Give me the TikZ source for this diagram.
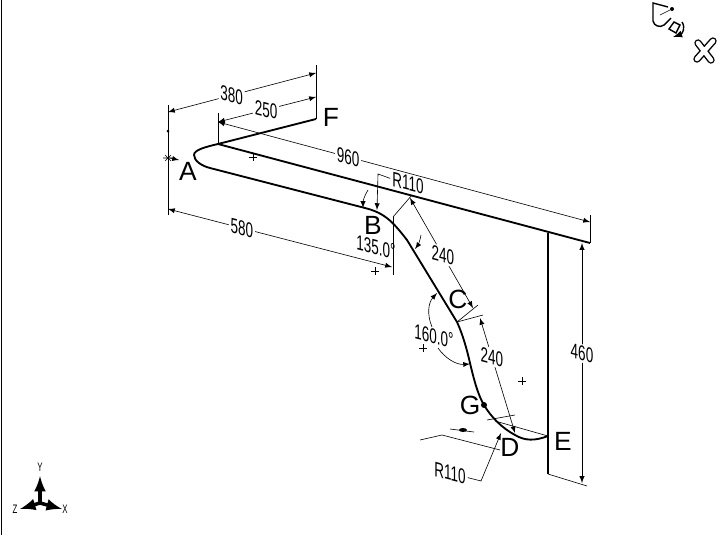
\documentclass[tikz,border=0pt]{standalone}
\usepackage{fontspec}
\setsansfont{Liberation Sans}
\newfontfamily\dimfont[FakeStretch=0.64]{Liberation Sans}
\tikzset{
  tube/.style={line width=1.05pt},
  thinline/.style={line width=0.35pt},
  dimline/.style={thinline, <->, >=latex},
  leader/.style={thinline, ->, >=latex},
  dimtext/.style={fill=white, inner sep=1pt, transform shape, yslant=-0.26, font=\dimfont\fontsize{12}{13}\selectfont},
  letter/.style={inner sep=0pt, font=\sffamily\fontsize{15}{16}\selectfont},
  triad/.style={line width=2pt, ->, >=latex},
  triadtext/.style={inner sep=0pt, font=\dimfont\fontsize{7}{8}\selectfont},
}
\begin{document}
\begin{tikzpicture}[x=0.02cm,y=-0.02cm]
\useasboundingbox (0,0) rectangle (721,535);
\draw[thinline] (1,0) -- (1,535);
% points on the tube
\coordinate (tF) at (316,119);
\coordinate (tT) at (218,144);
\coordinate (tA) at (194,155);
\coordinate (tL) at (210,168);
\coordinate (tB) at (365,208);
\coordinate (tB2) at (407,240);
\coordinate (tC) at (457,322);
\coordinate (tC2) at (470,363);
\coordinate (tG) at (484,405);
\coordinate (tD) at (515,435);
\coordinate (tE) at (548,436);
\coordinate (tR) at (590,243);
\coordinate (tS) at (548,233);
\coordinate (tU) at (548,474);
\draw[tube] (tF) -- (tT) .. controls (205,147) and (194,150) .. (tA)
  .. controls (194,161) and (202,166) .. (tL) -- (tB)
  .. controls (385,213) and (393,222) .. (tB2) -- (tC)
  .. controls (463,335) and (467,350) .. (tC2)
  .. controls (474,380) and (478,395) .. (tG)
  .. controls (491,417) and (502,428) .. (tD)
  .. controls (525,441) and (535,441) .. (tE);
\draw[tube] (tT) -- (tR);
\draw[tube] (tS) -- (tU);
\fill (tG) circle (3);
% extension lines
\coordinate (e380a) at (168,105);
\coordinate (e380b) at (168,215);
\coordinate (e250a) at (316,65);
\draw[thinline] (e380a) -- (e380b);
\draw[thinline] (e250a) -- (tF);
\draw[thinline] (218,113) -- (tT);
\draw[thinline] (590,215) -- (tR);
\draw[thinline] (393,217) -- (393,275);
\draw[thinline] (393,217) -- (412,195);
\draw[thinline] (tC) -- (478,305);
\draw[thinline] (tC) -- (483,315);
\draw[thinline] (487,420) -- (515,415);
\draw[thinline] (495,421) -- (tE);
\draw[thinline] (tU) -- (587,486);
% dimensions
\draw[dimline] (168,112) -- node[dimtext, pos=.43] (d380) {380} (316,73);
\draw[dimline] (218,122) -- node[dimtext, pos=.49] (d250) {250} (316,97);
\draw[dimline] (218,122) -- node[dimtext, pos=.35] (d960) {960} (590,222);
\draw[dimline] (168,209) -- node[dimtext, pos=.33] (d580) {580} (392,267);
\draw[dimline] (410,198) -- node[dimtext, pos=.52] (d240a) {240} (473,308);
\draw[dimline] (480,318) -- node[dimtext, pos=.34] (d240b) {240} (515,433);
\draw[dimline] (582,243) -- node[dimtext, pos=.46] (d460) {460} (582,483);
% angles
\draw[leader] (368,190) .. controls (364,196) and (363,202) .. (363,208);
\draw[leader] (421,235) .. controls (420,241) and (418,245) .. (415,249);
\draw[leader] (432,327) .. controls (427,315) and (428,303) .. (437,293);
\draw[leader] (438,348) .. controls (445,358) and (456,365) .. (470,364);
\node[dimtext, fill=none] (a135) at (376,247) {135.0°};
\node[dimtext, fill=none] (a160) at (434,336) {160.0°};
% radius leaders
\node[dimtext, fill=none] (r110a) at (408,183) {R110};
\node[dimtext, fill=none] (r110b) at (450,473) {R110};
\draw[leader] (r110a.west) -- (378,174) -- (377,210);
\draw[leader] (r110b.east) -- (481,481) -- (501,433);
% angle of the last bend, seen almost edge on
\draw[thinline] (420,440) -- (442,435) -- (500,450);
\draw[thinline] (450,429) -- (474,432);
\fill (463,430) ellipse (4 and 2);
% other marks
\foreach \p in {(253,157),(375,271),(423,348),(522,381)}
    \draw[thinline] \p +(-4,0) -- +(4,0) \p +(0,-4) -- +(0,4);
\draw[thinline] (163,158) -- (173,158) (165,155) -- (171,161) (165,161) -- (171,155);
\draw[leader] (170,158) -- (179,160);
\fill (168,131) circle (1.5);
% letters
\node[letter] (A) at (188,171) {A};
\node[letter] (F) at (331,117) {F};
\node[letter] (B) at (373,225) {B};
\node[letter] (C) at (458,299) {C};
\node[letter] (G) at (470,405) {G};
\node[letter] (D) at (510,447) {D};
\node[letter] (E) at (563,441) {E};
% triad
\coordinate (o) at (40,503);
\draw[triad] (o) -- (40,476);
\draw[triad] (o) -- (62,509);
\draw[triad] (o) -- (20,509);
\node[triadtext] (tY) at (40,467) {Y};
\node[triadtext] (tX) at (65,509) {X};
\node[triadtext] (tZ) at (15,509) {Z};
% view icons
\draw[line width=0.8pt] (668,7) -- (653,3) -- (653,21) .. controls (654,26) and (660,28) .. (664,25) -- (671,18);
\draw[thinline] (660,15) -- (670,10);
\fill (672,9) circle (2);
\draw[line width=0.8pt] (669,29) -- (676,33) -- (680,25) -- (674,22) -- cycle;
\draw[line width=0.8pt, ->, >=latex] (682,22) .. controls (686,28) and (682,34) .. (673,37);
\draw[line width=4.2pt, line cap=round] (697,59) -- (713,41) (698,43) -- (711,60);
\draw[white, line width=2.6pt, line cap=round] (697,59) -- (713,41) (698,43) -- (711,60);
\end{tikzpicture}
\end{document}
